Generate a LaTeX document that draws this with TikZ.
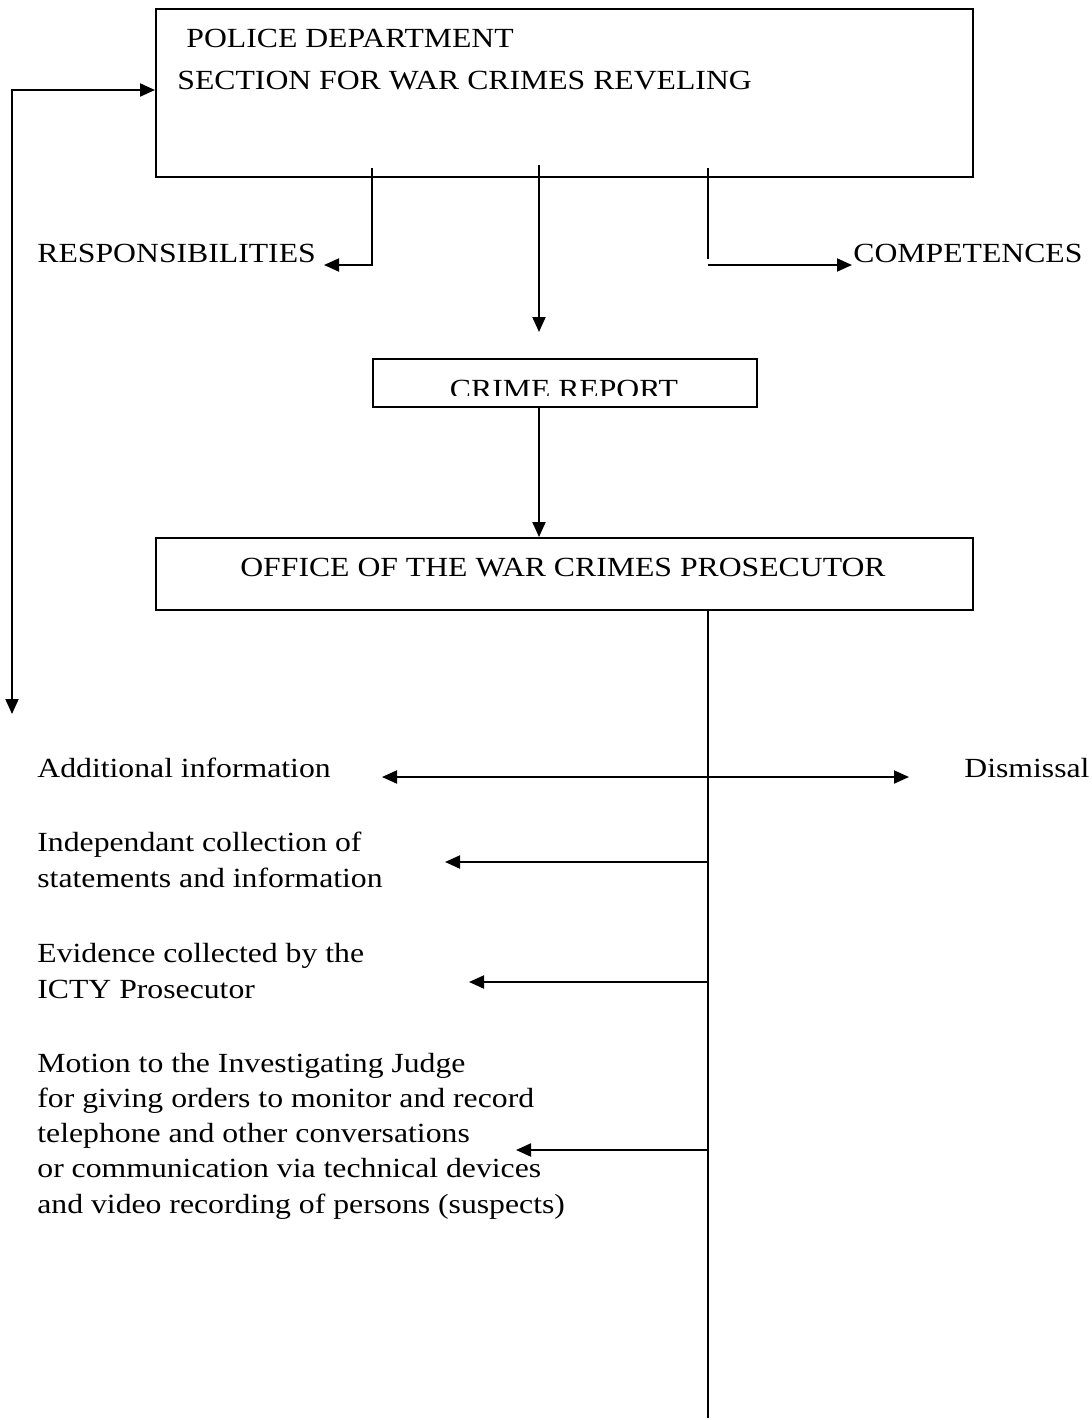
\documentclass[tikz,border=0pt]{standalone}
\usepackage{fontspec}
\setmainfont{Liberation Serif}[FakeStretch=1.145]
\usetikzlibrary{arrows.meta}
\begin{document}
\begin{tikzpicture}[x=0.5pt,y=-0.5pt,
  box/.style={draw, line width=1pt, inner sep=0pt, anchor=north west},
  lbl/.style={inner sep=0pt, anchor=base west, font=\fontsize{13.85}{17.6}\selectfont, align=left},
  ln/.style={line width=1pt},
  conn/.style={line width=1pt, -{Triangle[length=7.5pt,width=6.5pt]}},
  dconn/.style={line width=1pt, {Triangle[length=7.5pt,width=6.5pt]}-{Triangle[length=7.5pt,width=6.5pt]}}]
\useasboundingbox (0,0) rectangle (1092,1420);

% boxes
\node[box, minimum width=408.5pt, minimum height=84pt] (pd) at (155,8) {};
% multi-line labels are placed by the baseline of their last line
\node[lbl, font=\fontsize{13.85}{21}\selectfont] (pdt) at (177,89) {\hspace{4.5pt}POLICE DEPARTMENT\\SECTION FOR WAR CRIMES REVELING};
\node[box, minimum width=192pt, minimum height=24pt] (cr) at (372,358) {};
\begin{scope}
\clip (372,358) rectangle (756,395);
\node[lbl, anchor=base] (crt) at (564,398) {CRIME REPORT};
\end{scope}
\node[box, minimum width=408.5pt, minimum height=36pt] (of) at (155,537) {};
\node[lbl, anchor=base] (oft) at (563,576) {OFFICE OF THE WAR CRIMES PROSECUTOR};

% labels
\node[lbl] (resp) at (37,262) {RESPONSIBILITIES};
\node[lbl] (comp) at (853,262) {COMPETENCES};
\node[lbl] (add) at (37,777) {Additional information};
\node[lbl] (dis) at (964,777) {Dismissal};
\node[lbl] (ind) at (37,887) {Independant collection of\\statements and information};
\node[lbl] (evi) at (37,998) {Evidence collected by the\\ICTY Prosecutor};
\node[lbl] (mot) at (37,1213) {Motion to the Investigating Judge\\for giving orders to monitor and record\\telephone and other conversations\\or communication via technical devices\\and video recording of persons (suspects)};

% coordinates
\coordinate (lbot) at (12,714);
\coordinate (pdin) at (155,90);
\coordinate (r0) at (372,168);
\coordinate (rtip) at (324,265);
\coordinate (m0) at (539,165);
\coordinate (mtip) at (539,332);
\coordinate (c0) at (708,168);
\coordinate (c1) at (708,259);
\coordinate (c2) at (708,265);
\coordinate (ctip) at (852,265);
\coordinate (v0) at (708,609);
\coordinate (v1) at (708,1418);
\coordinate (aL) at (382,777);
\coordinate (aR) at (909,777);
\coordinate (i0) at (708,862);
\coordinate (itip) at (445,862);
\coordinate (e0) at (708,982);
\coordinate (etip) at (469,982);
\coordinate (mo0) at (708,1150);
\coordinate (motip) at (516,1150);

% connectors
\draw[dconn] (lbot) |- (pdin);
\draw[conn] (r0) |- (rtip);
\draw[conn] (m0) -- (mtip);
\draw[ln] (c0) -- (c1);
\draw[conn] (c2) -- (ctip);
\draw[conn] (cr.south -| m0) -- (of.north -| m0);
\draw[ln] (v0) -- (v1);
\draw[dconn] (aL) -- (aR);
\draw[conn] (i0) -- (itip);
\draw[conn] (e0) -- (etip);
\draw[conn] (mo0) -- (motip);
\end{tikzpicture}
\end{document}
